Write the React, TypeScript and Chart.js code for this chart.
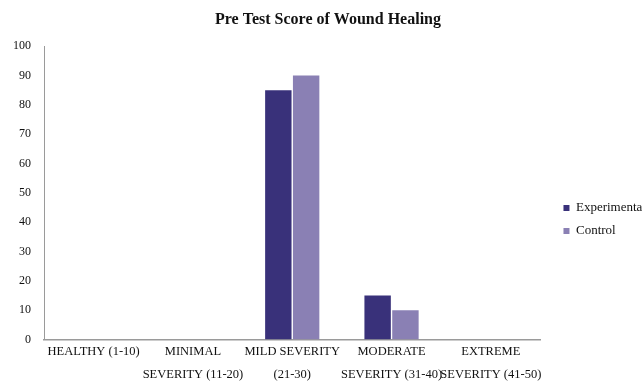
import React, { useEffect, useRef } from "react";
import { Chart, registerables } from "chart.js";

Chart.register(...registerables);

const categories: string[][] = [
  ["HEALTHY (1-10)"],
  ["MINIMAL", "SEVERITY (11-20)"],
  ["MILD SEVERITY", "(21-30)"],
  ["MODERATE", "SEVERITY (31-40)"],
  ["EXTREME", "SEVERITY (41-50)"],
];
const experimental = [0, 0, 85, 15, 0];
const control = [0, 0, 90, 10, 0];
const yTicks = [0, 10, 20, 30, 40, 50, 60, 70, 80, 90, 100];

const FONT = "'Liberation Serif', 'Times New Roman', serif";

export default function App() {
  const ref = useRef<HTMLCanvasElement | null>(null);
  useEffect(() => {
    document.body.style.margin = "0";
    document.body.style.overflow = "hidden";
    const chart = new Chart(ref.current!, {
      type: "bar",
      data: {
        labels: categories,
        datasets: [
          {
            label: "Experimental",
            data: experimental,
            backgroundColor: "#39317a",
            categoryPercentage: 0.56,
            barPercentage: 0.95,
            yAxisID: "y",
          },
          {
            label: "Control",
            data: control,
            backgroundColor: "#8a80b4",
            categoryPercentage: 0.56,
            barPercentage: 0.95,
            yAxisID: "y",
          },
        ],
      },
      options: {
        animation: false,
        responsive: false,
        layout: { padding: { left: 0, right: 0, top: 0, bottom: 0 } },
        plugins: {
          title: {
            display: true,
            text: "Pre Test Score of Wound Healing",
            color: "#111",
            font: { family: FONT, size: 16, weight: "bold" },
            padding: { top: 10, bottom: 17 },
          },
          legend: {
            position: "right",
            title: {
              display: true,
              text: " ",
              font: { family: FONT, size: 10 },
              padding: { top: 40, bottom: 0 },
            },
            labels: {
              boxWidth: 6,
              boxHeight: 6,
              padding: 10,
              color: "#111",
              font: { family: FONT, size: 13 },
            },
          },
          tooltip: { enabled: false },
        },
        scales: {
          x: {
            grid: { display: false, drawTicks: false },
            border: { display: true, color: "#9a9a9a", width: 1.5 },
            ticks: {
              color: "#111",
              font: { family: FONT, size: 12.5, lineHeight: 1.82 },
              maxRotation: 0,
              autoSkip: false,
              padding: 1,
            },
          },
          y: {
            min: 0,
            max: 100,
            afterBuildTicks: (axis: any) => {
              axis.ticks = yTicks.map((v) => ({ value: v }));
            },
            grid: { display: false, drawTicks: false },
            border: { display: true, color: "#9a9a9a", width: 1 },
            ticks: {
              color: "#111",
              font: { family: FONT, size: 12 },
              padding: 13,
            },
          },
          y2: {
            position: "right",
            display: true,
            min: 0,
            max: 100,
            grid: { display: false, drawTicks: false },
            border: { display: false },
            ticks: { display: false },
            afterFit: (s: any) => {
              s.width = 13;
            },
          },
        },
      },
    });
    return () => chart.destroy();
  }, []);
  return (
    <div style={{ position: "absolute", left: 0, top: 0 }}>
      <canvas ref={ref} width={656} height={387} style={{ display: "block" }} />
    </div>
  );
}
